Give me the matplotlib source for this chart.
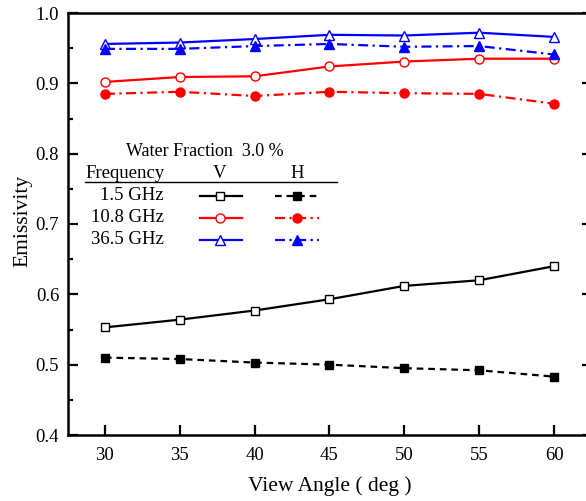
import numpy as np
import matplotlib
matplotlib.use("Agg")
from matplotlib import pyplot as plt

plt.rcParams['font.family'] = ['Liberation Serif', 'DejaVu Serif']

# Data
angles = [30, 35, 40, 45, 50, 55, 60]
freq_labels = ['1.5 GHz', '10.8 GHz', '36.5 GHz']

v_1_5 = [0.553, 0.564, 0.577, 0.593, 0.612, 0.620, 0.640]
h_1_5 = [0.510, 0.508, 0.503, 0.500, 0.495, 0.492, 0.483]
v_10_8 = [0.902, 0.909, 0.910, 0.924, 0.931, 0.935, 0.935]
h_10_8 = [0.885, 0.888, 0.882, 0.888, 0.886, 0.885, 0.871]
v_36_5 = [0.956, 0.958, 0.963, 0.969, 0.968, 0.972, 0.966]
h_36_5 = [0.949, 0.949, 0.953, 0.956, 0.952, 0.953, 0.941]

water_fraction = 3.0

colors = ['black', 'red', 'blue']
markers = ['s', 'o', '^']
msizes = [5.5, 6.5, 7.5]
h_dashes = [(3, 2.2), (4.5, 2, 1, 2), (4.5, 2, 1, 2)]
v_series = [v_1_5, v_10_8, v_36_5]
h_series = [h_1_5, h_10_8, h_36_5]

fig = plt.figure(figsize=(5.86, 5.01), dpi=100)
# right spine sits just past the picture edge, like the reference
ax = fig.add_axes([67.5 / 586, 66 / 501, 524 / 586, 422 / 501])

for c, m, ms, dsh, v, h in zip(colors, markers, msizes, h_dashes, v_series, h_series):
    ax.plot(angles, v, color=c, lw=1.6, marker=m, ms=ms, mfc='white', mec=c, mew=1.0)
    ax.plot(angles, h, color=c, lw=1.6, dashes=dsh, marker=m, ms=ms, mfc=c, mec=c)

ax.set_xlim(27.5, 62.5)
ax.set_ylim(0.4, 1.0)
ax.set_xticks(angles)
ax.set_yticks(np.arange(0.4, 1.01, 0.1))
ax.set_yticks(np.arange(0.45, 1.0, 0.1), minor=True)
ax.yaxis.set_major_formatter(matplotlib.ticker.FormatStrFormatter('%.1f'))
ax.tick_params(axis='both', which='major', direction='in', length=7, width=1.6,
               labelsize=13.5, right=True)
ax.tick_params(axis='y', which='minor', direction='in', length=3.5, width=1.6, right=True)
ax.tick_params(axis='x', pad=9)
ax.tick_params(axis='y', pad=6)
for s in ax.spines.values():
    s.set_linewidth(1.8)

ax.set_xlabel('View Angle ( deg )', fontsize=15.5, va='top')
ax.set_ylabel('Emissivity', fontsize=15.5)
ax.xaxis.set_label_coords(0.5, -0.098)
ax.yaxis.set_label_coords(-0.066, 0.507)


# Table-style legend, positions in pixels of the reference converted to axes fraction
def px(x, y):
    return (x - 67.5) / 524, (435 - y) / 422


tr = ax.transAxes
fs = 13.5
ax.text(*px(205, 152), f'Water Fraction  {water_fraction:.1f} %', transform=tr,
        ha='center', va='center', fontsize=13)
ax.text(*px(85, 173), 'Frequency', transform=tr, ha='left', va='center', fontsize=fs)
ax.text(*px(220, 173), 'V', transform=tr, ha='center', va='center', fontsize=fs)
ax.text(*px(297, 173), 'H', transform=tr, ha='center', va='center', fontsize=fs)
x0, y0 = px(85, 182)
x1, _ = px(337, 182)
ax.plot([x0, x1], [y0, y0], color='black', lw=1.0, transform=tr)

row_y = [196, 218, 240]
for ry, lab, c, m, ms, dsh in zip(row_y, freq_labels, colors, markers, msizes, h_dashes):
    ax.text(*px(164, ry), lab, transform=tr, ha='right', va='center', fontsize=fs)
    a, yy = px(200, ry)
    b, _ = px(242, ry)
    mid, _ = px(220, ry)
    ax.plot([a, b], [yy, yy], color=c, lw=1.6, transform=tr)
    ax.plot([mid], [yy], color=c, marker=m, ms=ms, mfc='white', mec=c, mew=1.0, transform=tr)
    a, _ = px(275, ry)
    b, _ = px(319, ry)
    mid, _ = px(297, ry)
    ax.plot([a, b], [yy, yy], color=c, lw=1.6, dashes=dsh, transform=tr)
    ax.plot([mid], [yy], color=c, marker=m, ms=ms, mfc=c, mec=c, transform=tr)

fig.savefig('out.png', dpi=100)
